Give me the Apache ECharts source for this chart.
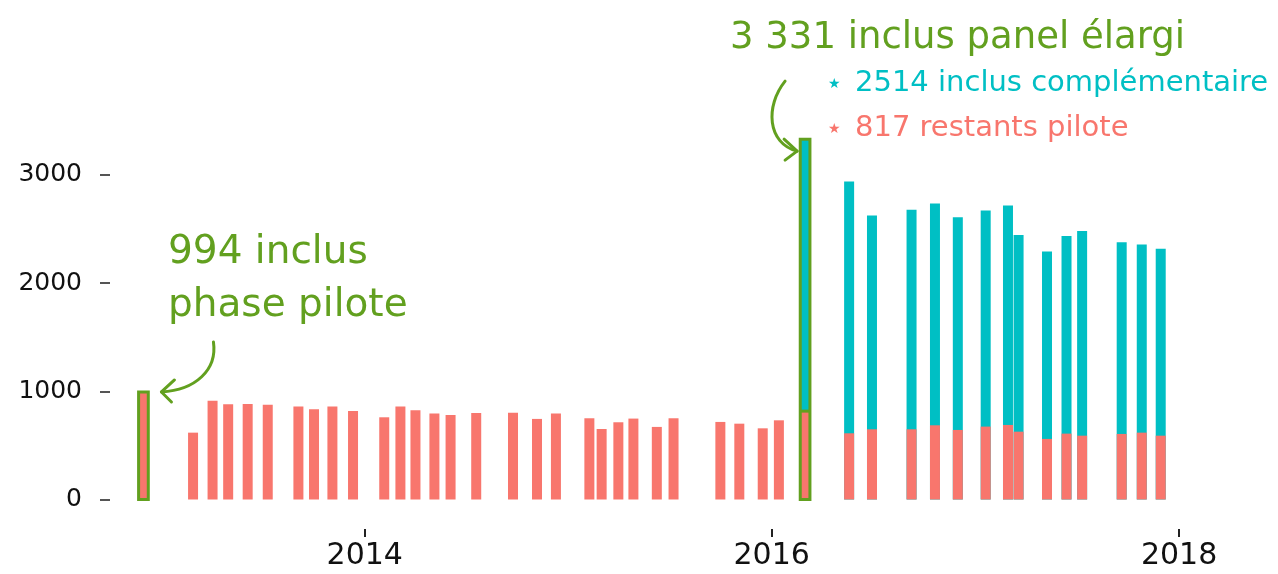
<!DOCTYPE html>
<html>
<head>
<meta charset="utf-8">
<script src="https://cdn.jsdelivr.net/npm/echarts@6/dist/echarts.min.js"></script>
<style>
html,body{margin:0;padding:0;background:#fff;}
#chart{width:1278px;height:574px;}
</style>
</head>
<body>
<div id="chart"></div>
<script>
// ---- data ----
const dates = [
  '2012-11-30',
  '2013-02-27','2013-04-03','2013-05-01','2013-06-05','2013-07-11','2013-09-04','2013-10-02','2013-11-04','2013-12-11',
  '2014-02-05','2014-03-06','2014-04-02','2014-05-06','2014-06-04','2014-07-20','2014-09-24','2014-11-06','2014-12-10',
  '2015-02-08','2015-03-02','2015-04-01','2015-04-28','2015-06-09','2015-07-09','2015-10-01','2015-11-04','2015-12-16',
  '2016-01-14','2016-03-01',
  '2016-05-19','2016-06-29','2016-09-08','2016-10-20','2016-11-30',
  '2017-01-19','2017-02-28','2017-03-19','2017-05-09','2017-06-13','2017-07-11','2017-09-20','2017-10-26','2017-11-29'
];
const pilote = [
  994,
  618, 914, 880, 883, 877, 859, 834, 859, 819,
  760, 859, 825, 794, 782, 800, 803, 745, 794,
  751, 652, 714, 748, 671, 751, 717, 701, 658,
  732, 817,
  612, 649, 649, 686, 643,
  674, 689, 627, 560, 609, 590, 606, 618, 590
];
const complementaire = [
  0,
  0, 0, 0, 0, 0, 0, 0, 0, 0,
  0, 0, 0, 0, 0, 0, 0, 0, 0,
  0, 0, 0, 0, 0, 0, 0, 0, 0,
  0, 2514,
  2328, 1976, 2029, 2050, 1967,
  1998, 2029, 1817, 1732, 1826, 1891, 1773, 1739, 1727
];
const highlighted = ['2012-11-30', '2016-03-01'];
const yTickValues = [0, 1000, 2000, 3000];
const xTickYears = [2014, 2016, 2018];
const xRange = ['2012-10-01', '2018-05-01'];

// ---- styles ----
const RED = '#F8766D', TEAL = '#00BFC4', GREEN = '#62A01F';
const FONT = '"DejaVu Sans", sans-serif';
const BAR_W = 10;

function ts(s) { const p = s.split('-').map(Number); return Date.UTC(p[0], p[1] - 1, p[2]); }

// pilote bars drawn on top of the (pilote + complémentaire) bars = visual stack
const redData = dates.map((d, i) => [ts(d), pilote[i]]);
const tealData = dates.map((d, i) => complementaire[i] > 0 ? [ts(d), pilote[i] + complementaire[i]] : [ts(d), '-']);
const hiData = highlighted.map(d => { const i = dates.indexOf(d); return [ts(d), pilote[i], pilote[i] + complementaire[i]]; });
const xTicks = xTickYears.map(y => ts(y + '-01-01'));

const chart = echarts.init(document.getElementById('chart'), null, { renderer: 'canvas' });
chart.setOption({
  animation: false,
  backgroundColor: '#fff',
  // the value range starts a little below 0 so the date axis sits under the bars
  grid: { left: 110, right: 32, top: 66.8, bottom: 45 },
  xAxis: {
    type: 'value',
    min: ts(xRange[0]), max: ts(xRange[1]),
    axisLine: { show: false, onZero: false },
    splitLine: { show: false },
    axisTick: { show: true, length: 8, lineStyle: { color: '#222', width: 2 }, customValues: xTicks },
    axisLabel: {
      customValues: xTicks,
      formatter: v => String(new Date(v).getUTCFullYear()),
      fontFamily: FONT, fontSize: 30, color: '#111', margin: 12
    }
  },
  yAxis: {
    type: 'value', min: -272.7, max: 4000,
    axisLine: { show: false, onZero: false },
    splitLine: { show: false },
    axisTick: { show: true, length: 10, lineStyle: { color: '#555', width: 2 }, customValues: yTickValues },
    axisLabel: { customValues: yTickValues, formatter: v => String(v), fontFamily: FONT, fontSize: 25, color: '#111', margin: 28,
      padding: [0, 0, 11, 0] }
  },
  series: [
    { name: 'complementaire', type: 'bar', barWidth: BAR_W, barGap: '-100%', data: tealData,
      itemStyle: { color: TEAL }, z: 2 },
    { name: 'pilote', type: 'bar', barWidth: BAR_W, barGap: '-100%', data: redData,
      itemStyle: { color: RED }, z: 3 },
    { name: 'highlight', type: 'custom', z: 4, data: hiData,
      renderItem: function (params, api) {
        const x = api.value(0);
        const b = api.coord([x, 0]);
        const m = api.coord([x, api.value(1)]);
        const t = api.coord([x, api.value(2)]);
        const w = BAR_W - 0.3;
        const children = [{
          type: 'rect',
          shape: { x: b[0] - w / 2, y: t[1], width: w, height: b[1] - t[1] },
          style: { fill: null, stroke: GREEN, lineWidth: 3 }
        }];
        if (api.value(2) > api.value(1)) {
          children.push({ type: 'line', shape: { x1: b[0] - w / 2, y1: m[1], x2: b[0] + w / 2, y2: m[1] },
            style: { stroke: GREEN, lineWidth: 3 } });
        }
        return { type: 'group', children: children };
      }
    }
  ]
});

// ---- annotations anchored to bars ----
const p1 = chart.convertToPixel({ gridIndex: 0 }, [hiData[0][0], hiData[0][2]]);
const p2 = chart.convertToPixel({ gridIndex: 0 }, [hiData[1][0], hiData[1][2]]);

const arrowStyle = { stroke: GREEN, lineWidth: 3, fill: null, lineCap: 'round', lineJoin: 'round' };
const t1 = [p1[0] + 18, p1[1]];
const t2 = [p2[0] - 8, p2[1] + 12];

chart.setOption({
  graphic: [
    { type: 'text', style: { text: '994 inclus', x: 168, y: 253, fill: GREEN, fontSize: 39, fontFamily: FONT, verticalAlign: 'middle' } },
    { type: 'text', style: { text: 'phase pilote', x: 168, y: 306, fill: GREEN, fontSize: 39, fontFamily: FONT, verticalAlign: 'middle' } },
    { type: 'bezierCurve', shape: { x1: t1[0] + 52, y1: t1[1] - 50, cpx1: t1[0] + 56, cpy1: t1[1] - 22, cpx2: t1[0] + 34, cpy2: t1[1] - 2, x2: t1[0], y2: t1[1] }, style: arrowStyle },
    { type: 'polyline', shape: { points: [[t1[0] + 13, t1[1] - 12], t1, [t1[0] + 10, t1[1] + 10]] }, style: arrowStyle },

    { type: 'text', style: { text: '3 331 inclus panel élargi', x: 730, y: 38, fill: GREEN, fontSize: 37, fontFamily: FONT, verticalAlign: 'middle' } },
    { type: 'text', style: { text: '★', x: 828, y: 84, fill: TEAL, fontSize: 14, fontFamily: FONT, verticalAlign: 'middle' } },
    { type: 'text', style: { text: '2514 inclus complémentaire', x: 855, y: 83, fill: TEAL, fontSize: 29, fontFamily: FONT, verticalAlign: 'middle' } },
    { type: 'text', style: { text: '★', x: 828, y: 129, fill: RED, fontSize: 14, fontFamily: FONT, verticalAlign: 'middle' } },
    { type: 'text', style: { text: '817 restants pilote', x: 855, y: 128, fill: RED, fontSize: 29, fontFamily: FONT, verticalAlign: 'middle' } },
    { type: 'bezierCurve', shape: { x1: t2[0] - 12, y1: t2[1] - 70, cpx1: t2[0] - 32, cpy1: t2[1] - 45, cpx2: t2[0] - 30, cpy2: t2[1] - 8, x2: t2[0], y2: t2[1] }, style: arrowStyle },
    { type: 'polyline', shape: { points: [[t2[0] - 13, t2[1] - 12], t2, [t2[0] - 12, t2[1] + 9]] }, style: arrowStyle }
  ]
});
</script>
</body>
</html>
